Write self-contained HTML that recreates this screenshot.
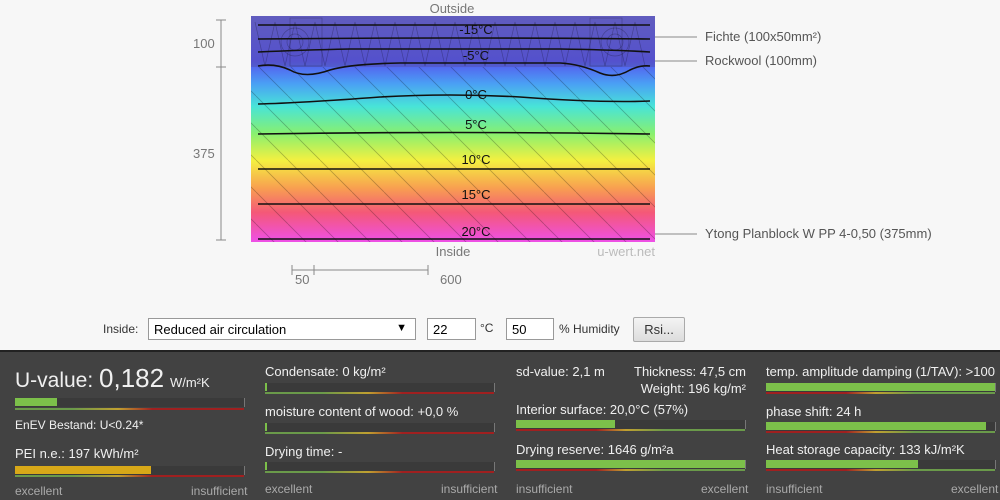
<!DOCTYPE html>
<html><head><meta charset="utf-8"><style>
body{margin:0;width:1000px;height:498px;background:#f7f7f7;font-family:"Liberation Sans",sans-serif;overflow:hidden;position:relative}
.t{position:absolute;white-space:nowrap}
#panel{position:absolute;left:0;top:350px;width:1000px;height:148px;background:#424242;border-top:2px solid #222;color:#eee}
.lbl{position:absolute;font-size:13px;color:#f0f0f0;white-space:nowrap}
.sm{position:absolute;font-size:12px;color:#aaa;white-space:nowrap}
.bar{position:absolute;height:9px;background:#3a3a3a;border-right:1px solid #777}
.fill{position:absolute;left:0;top:0;height:8px}
.gl{position:absolute;height:2px}
.gr{background:linear-gradient(90deg,#6a9a4a,#6a9a4a 25%,#c0a030 45%,#a02020 60%,#a02020)}
.rg{background:linear-gradient(90deg,#a02020,#a02020 35%,#c0a030 48%,#6a9a4a 65%,#6a9a4a)}
input,.sel{position:absolute;box-sizing:border-box;border:1px solid #999;background:#fff;font-family:"Liberation Sans",sans-serif;font-size:13px;padding:3px 5px;height:22px}
</style></head><body>
<svg width="1000" height="300" style="position:absolute;left:0;top:0">
<defs>
<linearGradient id="g" x1="0" y1="16" x2="0" y2="242" gradientUnits="userSpaceOnUse">
<stop offset="0" stop-color="#6a68d8"/>
<stop offset="0.2" stop-color="#5656ee"/>
<stop offset="0.3" stop-color="#4aa0f4"/>
<stop offset="0.4" stop-color="#48e4d8"/>
<stop offset="0.52" stop-color="#88f070"/>
<stop offset="0.64" stop-color="#f4f040"/>
<stop offset="0.76" stop-color="#f8a050"/>
<stop offset="0.87" stop-color="#f45878"/>
<stop offset="1" stop-color="#ee50e8"/>
</linearGradient>
<pattern id="h" width="32" height="32" patternUnits="userSpaceOnUse">
<path d="M0 0L32 32M-16 16L0 32M16 -16L32 0" stroke="#000" stroke-opacity="0.25" stroke-width="0.8"/>
</pattern>
</defs>
<rect x="251" y="16" width="404" height="226" fill="url(#g)"/>
<rect x="251" y="16" width="404" height="51" fill="#504890" fill-opacity="0.35"/>
<rect x="251" y="67" width="404" height="175" fill="url(#h)"/>
<g stroke="#000" stroke-opacity="0.25" fill="none" stroke-width="0.7">
<path d="M255 22 L265 66 L275 22 L285 66 L295 22 L305 66 L315 22 L325 66 L335 22 L345 66 L355 22 L365 66 L375 22 L385 66 L395 22 L405 66 L415 22 L425 66 L435 22 L445 66 L455 22 L465 66 L475 22 L485 66 L495 22 L505 66 L515 22 L525 66 L535 22 L545 66 L555 22 L565 66 L575 22 L585 66 L595 22 L605 66 L615 22 L625 66 L635 22 L645 66"/>
<rect x="290" y="18" width="32" height="48"/><rect x="590" y="18" width="32" height="48"/>
<circle cx="295" cy="42" r="8"/><circle cx="295" cy="42" r="14"/><circle cx="615" cy="42" r="8"/><circle cx="615" cy="42" r="14"/>
</g>
<g stroke="#111" stroke-width="1.6" fill="none">
<path d="M258 25 L650 25"/>
<path d="M258 39 Q450 37 650 39"/>
<path d="M258 52 Q300 50 350 49 L560 49 Q620 50 650 52"/>
<path d="M258 66 Q275 63 290 70 Q305 79 330 70 Q350 64 400 63 L560 63 Q580 64 600 73 Q615 79 630 70 Q640 65 650 66"/>
<path d="M258 104 Q300 103 380 97 Q450 93 520 97 Q600 103 650 101"/>
<path d="M258 134 Q450 131 650 134"/>
<path d="M258 169 L650 169"/>
<path d="M258 204 L650 204"/>
<path d="M258 239 L650 239"/>
</g>
<g font-size="13" fill="#111" text-anchor="middle" font-family="Liberation Sans">
<text x="476" y="34">-15°C</text><text x="476" y="60">-5°C</text><text x="476" y="99">0°C</text>
<text x="476" y="129">5°C</text><text x="476" y="164">10°C</text><text x="476" y="199">15°C</text><text x="476" y="236">20°C</text>
</g>
<g stroke="#888" fill="none">
<path d="M221 20V240M216 20H226M216 67H226M216 240H226"/>
<path d="M292 270H428M292 265V275M314 265V275M428 265V275"/>
<path d="M655 37H697M655 61H697M655 234H697"/>
</g>
<g font-size="13" fill="#777" font-family="Liberation Sans">
<text x="452" y="13" text-anchor="middle">Outside</text>
<text x="453" y="256" text-anchor="middle">Inside</text>
<text x="655" y="256" text-anchor="end" fill="#bbb">u-wert.net</text>
<text x="193" y="48">100</text><text x="193" y="158">375</text>
<text x="295" y="284">50</text><text x="440" y="284">600</text>
</g>
<g font-size="13" fill="#555" font-family="Liberation Sans">
<text x="705" y="41">Fichte (100x50mm²)</text>
<text x="705" y="65">Rockwool (100mm)</text>
<text x="705" y="238">Ytong Planblock W PP 4-0,50 (375mm)</text>
</g>
</svg>
<div class="t" style="left:103px;top:322px;font-size:12px;color:#333">Inside:</div>
<div class="sel" style="left:148px;top:318px;width:268px">Reduced air circulation<span style="position:absolute;right:8px;font-size:11px">▼</span></div>
<input style="left:427px;top:318px;width:49px" value="22">
<div class="t" style="left:480px;top:321px;font-size:12px;color:#333">°C</div>
<input style="left:506px;top:318px;width:48px" value="50">
<div class="t" style="left:559px;top:322px;font-size:12px;color:#333">% Humidity</div>
<div class="t" style="left:633px;top:317px;width:50px;height:23px;border:1px solid #aaa;border-radius:2px;background:linear-gradient(#f4f4f4,#ddd);font-size:13px;color:#333;text-align:center;line-height:23px">Rsi...</div>
<div id="panel">
<div class="lbl" style="left:15px;top:11px;font-size:21px">U-value: <span style="font-size:26px">0,182</span> <span style="font-size:13px">W/m²K</span></div>
<div class="bar" style="left:15px;top:46px;width:229px"><div class="fill" style="width:42px;background:#7cc04a"></div></div>
<div class="gl gr" style="left:15px;top:56px;width:229px"></div>
<div class="lbl" style="left:15px;top:66px;font-size:12px">EnEV Bestand: U&lt;0.24*</div>
<div class="lbl" style="left:15px;top:94px">PEI n.e.: 197 kWh/m²</div>
<div class="bar" style="left:15px;top:114px;width:229px"><div class="fill" style="width:136px;background:#d8a818"></div></div>
<div class="gl gr" style="left:15px;top:123px;width:229px"></div>
<div class="sm" style="left:15px;top:132px">excellent</div><div class="sm" style="left:191px;top:132px">insufficient</div>

<div class="lbl" style="left:265px;top:12px">Condensate: 0 kg/m²</div>
<div class="bar" style="left:265px;top:31px;width:229px"><div class="fill" style="width:2px;background:#7cc04a"></div></div>
<div class="gl gr" style="left:265px;top:40px;width:229px"></div>
<div class="lbl" style="left:265px;top:52px">moisture content of wood: +0,0 %</div>
<div class="bar" style="left:265px;top:71px;width:229px"><div class="fill" style="width:2px;background:#7cc04a"></div></div>
<div class="gl gr" style="left:265px;top:80px;width:229px"></div>
<div class="lbl" style="left:265px;top:92px">Drying time: -</div>
<div class="bar" style="left:265px;top:110px;width:229px"><div class="fill" style="width:2px;background:#7cc04a"></div></div>
<div class="gl gr" style="left:265px;top:119px;width:229px"></div>
<div class="sm" style="left:265px;top:130px">excellent</div><div class="sm" style="left:441px;top:130px">insufficient</div>

<div class="lbl" style="left:516px;top:12px">sd-value: 2,1 m</div>
<div class="lbl" style="left:746px;top:12px;transform:translateX(-100%)">Thickness: 47,5 cm</div>
<div class="lbl" style="left:746px;top:29px;transform:translateX(-100%)">Weight: 196 kg/m²</div>
<div class="lbl" style="left:516px;top:50px">Interior surface: 20,0°C (57%)</div>
<div class="bar" style="left:516px;top:68px;width:229px"><div class="fill" style="width:99px;background:#7cc04a"></div></div>
<div class="gl rg" style="left:516px;top:77px;width:229px"></div>
<div class="lbl" style="left:516px;top:90px">Drying reserve: 1646 g/m²a</div>
<div class="bar" style="left:516px;top:108px;width:229px"><div class="fill" style="width:229px;background:#7cc04a"></div></div>
<div class="gl rg" style="left:516px;top:117px;width:229px"></div>
<div class="sm" style="left:516px;top:130px">insufficient</div><div class="sm" style="left:701px;top:130px">excellent</div>

<div class="lbl" style="left:766px;top:12px">temp. amplitude damping (1/TAV): &gt;100</div>
<div class="bar" style="left:766px;top:31px;width:229px"><div class="fill" style="width:229px;background:#7cc04a"></div></div>
<div class="gl rg" style="left:766px;top:40px;width:229px"></div>
<div class="lbl" style="left:766px;top:52px">phase shift: 24 h</div>
<div class="bar" style="left:766px;top:70px;width:229px"><div class="fill" style="width:220px;background:#7cc04a"></div></div>
<div class="gl rg" style="left:766px;top:79px;width:229px"></div>
<div class="lbl" style="left:766px;top:90px">Heat storage capacity: 133 kJ/m²K</div>
<div class="bar" style="left:766px;top:108px;width:229px"><div class="fill" style="width:152px;background:#7cc04a"></div></div>
<div class="gl rg" style="left:766px;top:117px;width:229px"></div>
<div class="sm" style="left:766px;top:130px">insufficient</div><div class="sm" style="left:951px;top:130px">excellent</div>
</div>
</body></html>
